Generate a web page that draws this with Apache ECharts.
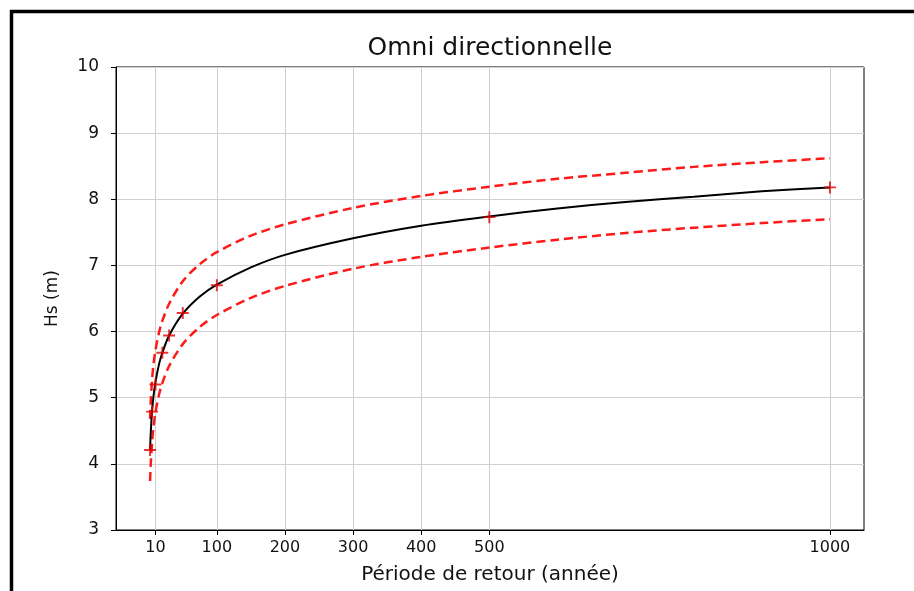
<!DOCTYPE html>
<html>
<head>
<meta charset="utf-8">
<script src="https://cdn.jsdelivr.net/npm/echarts@6/dist/echarts.min.js"></script>
<style>
  html, body { margin: 0; padding: 0; background: #fff; }
  #chart { width: 914px; height: 591px; }
</style>
</head>
<body>
<div id="chart"></div>
<script>
// Return periods (years) along the fitted curve
let periods = [2, 3, 5, 7, 10, 15, 20, 30, 50, 75, 100, 150, 200, 300, 400, 500, 600, 700, 800, 900, 1000];
// Fitted Hs (m), black line
let hsFit = [4.21, 4.47, 4.80, 5.02, 5.24, 5.50, 5.68, 5.94, 6.27, 6.53, 6.71, 6.97, 7.16, 7.41, 7.60, 7.74, 7.86, 7.96, 8.04, 8.12, 8.18];
// Confidence bounds, red dashed
let hsUpper = [4.68, 4.95, 5.28, 5.50, 5.72, 5.98, 6.16, 6.42, 6.76, 7.02, 7.20, 7.45, 7.62, 7.87, 8.05, 8.19, 8.31, 8.40, 8.49, 8.56, 8.62];
let hsLower = [3.74, 4.00, 4.33, 4.55, 4.78, 5.04, 5.22, 5.48, 5.81, 6.07, 6.25, 6.51, 6.69, 6.95, 7.13, 7.27, 7.39, 7.49, 7.57, 7.64, 7.70];
// Sample points, red crosses
let samplePeriods = [2, 5, 10, 20, 30, 50, 100, 500, 1000];
let sampleHs = [4.21, 4.79, 5.20, 5.68, 5.94, 6.28, 6.70, 7.73, 8.18];
// Axis ticks
let xTicks = [10, 100, 200, 300, 400, 500, 1000];

function pairs(xs, ys) {
    return xs.map(function(x, i) { return [x, ys[i]]; });
}

let chart = echarts.init(document.getElementById('chart'));
let font = 'DejaVu Sans';
let plus = 'path://M4.2,0 H5.8 V4.2 H10 V5.8 H5.8 V10 H4.2 V5.8 H0 V4.2 H4.2 Z';

let option = {
    animation: false,
    backgroundColor: '#fff',
    textStyle: { fontFamily: font },
    grid: {
        left: 116,
        right: 50,
        top: 67,
        bottom: 61,
        outerBoundsMode: 'none',
        containLabel: false,
        show: true,
        borderColor: '#000',
        borderWidth: 1,
        backgroundColor: 'transparent'
    },
    graphic: [
        {
            type: 'rect',
            shape: { x: 11.5, y: 11.5, width: 1000, height: 1000 },
            style: { fill: 'none', stroke: '#000', lineWidth: 3.5 },
            silent: true
        },
        {
            type: 'text',
            x: 490,
            y: 48,
            style: {
                text: 'Omni directionnelle',
                font: '25px "DejaVu Sans"',
                fill: '#111',
                textAlign: 'center',
                textVerticalAlign: 'middle'
            }
        }
    ],
    xAxis: {
        type: 'value',
        min: -48,
        max: 1050,
        name: 'Période de retour (année)',
        nameLocation: 'middle',
        nameGap: 35,
        nameTextStyle: { fontSize: 20, color: '#111', fontFamily: font },
        axisLine: { onZero: false, lineStyle: { color: '#000', width: 1 } },
        axisTick: { show: true, length: 5, lineStyle: { color: '#000' }, customValues: xTicks },
        axisLabel: {
            fontSize: 16,
            color: '#111',
            margin: 10,
            customValues: xTicks,
            formatter: function(v) { return String(v); }
        },
        splitLine: { show: true, lineStyle: { color: '#cfcfcf', width: 1 } }
    },
    yAxis: {
        type: 'value',
        min: 3,
        max: 10,
        interval: 1,
        name: 'Hs (m)',
        nameLocation: 'middle',
        nameGap: 55,
        nameTextStyle: { fontSize: 17, color: '#111', fontFamily: font },
        axisLine: { show: true, onZero: false, lineStyle: { color: '#000', width: 1 } },
        axisTick: { show: true, length: 5, lineStyle: { color: '#000' } },
        axisLabel: { fontSize: 17, color: '#111', margin: 17 },
        splitLine: { show: true, lineStyle: { color: '#cfcfcf', width: 1 } }
    },
    series: [
        {
            name: 'Borne sup',
            type: 'line',
            data: pairs(periods, hsUpper),
            smooth: 0.3,
            symbol: 'none',
            lineStyle: { color: '#ff1a1a', width: 2.5, type: [9, 5] },
            z: 2
        },
        {
            name: 'Borne inf',
            type: 'line',
            data: pairs(periods, hsLower),
            smooth: 0.3,
            symbol: 'none',
            lineStyle: { color: '#ff1a1a', width: 2.5, type: [9, 5] },
            z: 2
        },
        {
            name: 'Ajustement',
            type: 'line',
            data: pairs(periods, hsFit),
            smooth: 0.3,
            symbol: 'none',
            lineStyle: { color: '#000', width: 2 },
            z: 3
        },
        {
            name: 'Observations',
            type: 'scatter',
            data: pairs(samplePeriods, sampleHs),
            symbol: plus,
            symbolSize: 12,
            itemStyle: { color: '#e00000' },
            z: 4
        }
    ]
};

chart.setOption(option);

window.addEventListener('resize', function() {
    chart.resize();
});
</script>
</body>
</html>
